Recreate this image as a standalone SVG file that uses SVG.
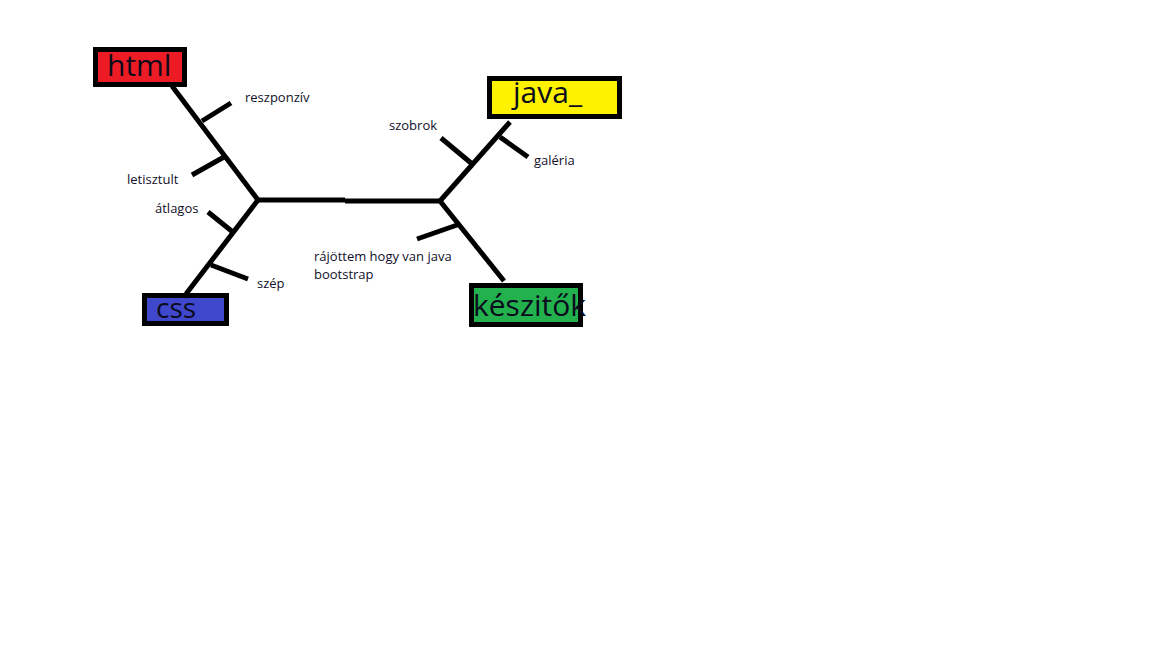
<svg xmlns="http://www.w3.org/2000/svg" width="1152" height="648" viewBox="0 0 1152 648">
<style>
.ln{stroke:#000;stroke-width:5;fill:none;stroke-linecap:butt}
.box{stroke:#000;stroke-width:5}
.big{font-family:"Open Sans","Noto Sans",sans-serif;font-size:30px;fill:#0b0b1e}
.lbl{font-family:"Open Sans","Noto Sans",sans-serif;font-size:13px;fill:#10102a}
</style>
<rect width="1152" height="648" fill="#fff"/>
<g id="connectors">
<path class="ln" d="M172,86 L258,200"/>
<path class="ln" d="M258,200 L186,294"/>
<path class="ln" d="M258,200 L345,200 M345,201 L440,201"/>
<path class="ln" d="M440,201 L510,122"/>
<path class="ln" d="M440,201 L504,281"/>
<path class="ln" d="M202,121 L231,103"/>
<path class="ln" d="M224,157 L192,175"/>
<path class="ln" d="M208,212 L234,233"/>
<path class="ln" d="M211,265 L248,279"/>
<path class="ln" d="M441,138 L471,163"/>
<path class="ln" d="M500,137 L528,157"/>
<path class="ln" d="M460,224 L417,239"/>
</g>
<g id="html">
<rect class="box" x="95.5" y="49.5" width="89" height="35" fill="#ed1c24"/>
<text class="big" x="107" y="76">html</text>
</g>
<g id="css">
<rect class="box" x="144.5" y="295.5" width="82" height="28" fill="#3f48cc"/>
<text class="big" x="156" y="318" style="font-size:28px">css</text>
</g>
<g id="java">
<rect class="box" x="489.5" y="78.5" width="130" height="38" fill="#fff200"/>
<text class="big" x="513" y="103">java_</text>
</g>
<g id="keszitok">
<rect class="box" x="471.5" y="285.5" width="109" height="39" fill="#22b14c"/>
<text class="big" x="473" y="316">készitők</text>
</g>
<g id="labels">
<text class="lbl" x="245" y="102">reszponzív</text>
<text class="lbl" x="127" y="184">letisztult</text>
<text class="lbl" x="155" y="213">átlagos</text>
<text class="lbl" x="257" y="288">szép</text>
<text class="lbl" x="389" y="130">szobrok</text>
<text class="lbl" x="534" y="165">galéria</text>
<text class="lbl" x="314" y="261">rájöttem hogy van java</text>
<text class="lbl" x="314" y="279">bootstrap</text>
</g>
</svg>
